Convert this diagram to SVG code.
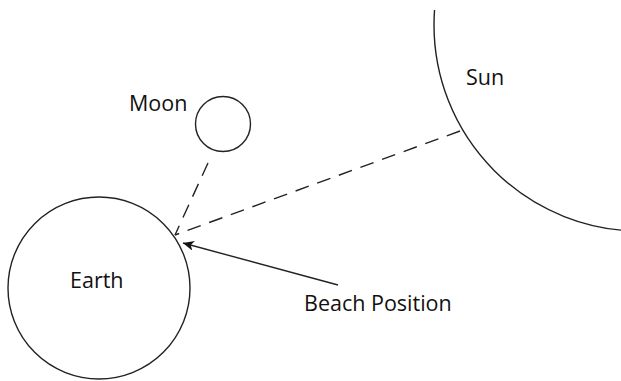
<svg xmlns="http://www.w3.org/2000/svg" width="621" height="381" viewBox="0 0 621 381">
<style>
.body{fill:none;stroke:#222;stroke-width:1.4}
.lbl{font-family:"Open Sans","Noto Sans",sans-serif;font-size:21.5px;fill:#111}
.dash{fill:none;stroke:#222;stroke-width:1.4;stroke-dasharray:14 9}
.solid{fill:none;stroke:#222;stroke-width:1.4}
</style>
<defs>
<marker id="arr" markerWidth="12" markerHeight="10" refX="11" refY="5" orient="auto" markerUnits="userSpaceOnUse">
<path d="M0,0 L11,5 L0,10 L3,5 Z" fill="#111"/>
</marker>
<clipPath id="sunclip"><rect x="0" y="10" width="621" height="371"/></clipPath>
</defs>
<rect width="621" height="381" fill="#fff"/>
<g id="sun">
<circle class="body" cx="640" cy="25" r="206" clip-path="url(#sunclip)"/>
<text class="lbl" x="466" y="85">Sun</text>
</g>
<g id="moon">
<circle class="body" cx="223" cy="124" r="27.5"/>
<text class="lbl" x="129" y="111">Moon</text>
</g>
<g id="earth">
<circle class="body" cx="99" cy="288" r="91"/>
<text class="lbl" x="70" y="288">Earth</text>
</g>
<g id="beach">
<text class="lbl" x="304" y="311">Beach Position</text>
</g>
<g id="connectors">
<path class="dash" d="M208,163 L175,235"/>
<path class="dash" d="M460,131 L175,235"/>
<path class="solid" d="M338,285 L183,243" marker-end="url(#arr)"/>
</g>
</svg>
